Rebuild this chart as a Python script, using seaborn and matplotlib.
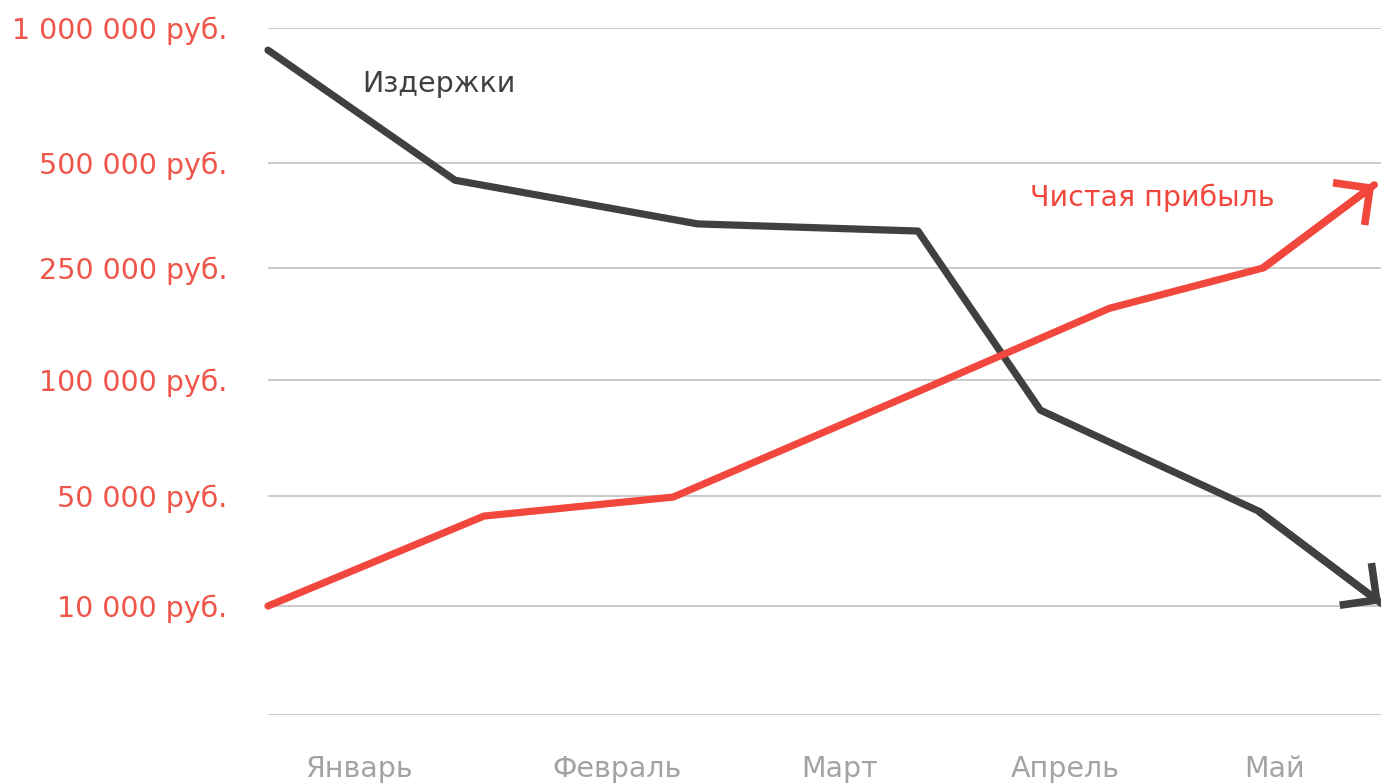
import numpy as np
import pandas as pd
import seaborn as sns
import matplotlib.pyplot as plt

# Данные
months = ["Январь", "Февраль", "Март", "Апрель", "Май"]
month_pos = [0.41, 1.57, 2.57, 3.58, 4.52]

costs_x = [0.0, 0.84, 1.93, 2.92, 3.47, 4.45, 5.0]
costs_y = [918000, 459000, 355000, 338000, 87000, 44500, 11000]

profit_x = [0.0, 0.97, 1.82, 2.92, 3.78, 4.47, 4.97]
profit_y = [10000, 42700, 49600, 95000, 196000, 250000, 448000]

tick_vals = [0, 10000, 50000, 100000, 250000, 500000, 1000000]
tick_labels = ["", "10 000 руб.", "50 000 руб.", "100 000 руб.", "250 000 руб.",
               "500 000 руб.", "1 000 000 руб."]
# шаги нелинейной шкалы (как на исходном графике)
scale_steps = [0, 109, 219, 335, 447, 552, 687]

RED = "#f2473d"
RED_LABEL = "#ef5549"
DARK = "#404040"
GRAY = "#a3a3a3"

sns.set_theme(style="white")
plt.rcParams["font.family"] = ["DejaVu Sans"]

df = pd.concat([
    pd.DataFrame({"x": costs_x, "y": costs_y, "series": "Издержки"}),
    pd.DataFrame({"x": profit_x, "y": profit_y, "series": "Чистая прибыль"}),
])

fig = plt.figure(figsize=(13.81, 7.84), dpi=100)
ax = fig.add_axes([268 / 1381, 1 - 715 / 784, 1 - 268 / 1381, (715 - 28) / 784])


def forward(v):
    return np.interp(v, tick_vals, scale_steps)


def inverse(p):
    return np.interp(p, scale_steps, tick_vals)


ax.set_yscale("function", functions=(forward, inverse))

sns.lineplot(data=df, x="x", y="y", hue="series", sort=False,
             palette={"Издержки": DARK, "Чистая прибыль": RED},
             linewidth=5.2, legend=False, ax=ax, clip_on=False, zorder=3)

# стрелки на концах линий
for xs, ys, col in [(costs_x, costs_y, DARK), (profit_x, profit_y, RED)]:
    ax.annotate("", xy=(xs[-1], ys[-1]), xytext=(xs[-2], ys[-2]),
                arrowprops=dict(arrowstyle="->,head_length=0.95,head_width=0.95",
                                color=col, lw=5.5, shrinkA=0, shrinkB=0,
                                mutation_scale=20, capstyle="butt",
                                joinstyle="miter"),
                annotation_clip=False, zorder=4)

ax.set_xlim(0, 5)
ax.set_ylim(0, 1000000)
ax.set_yticks(tick_vals)
ax.set_yticklabels(tick_labels)
ax.set_xticks(month_pos)
ax.set_xticklabels(months)
ax.set_xlabel("")
ax.set_ylabel("")

ax.tick_params(axis="y", length=0, pad=29, labelsize=20.5, labelcolor=RED_LABEL)
ax.tick_params(axis="x", length=0, pad=29, labelsize=20.5, labelcolor=GRAY)

ax.grid(axis="y", color="#c6c6c6", linewidth=1.3)
ax.grid(axis="x", visible=False)
for side in ["left", "right", "top", "bottom"]:
    ax.spines[side].set_visible(False)

ax.text(0.085, 0.918, "Издержки", transform=ax.transAxes, fontsize=20.5,
        color=DARK, ha="left", va="center")
ax.text(0.685, 0.753, "Чистая прибыль", transform=ax.transAxes, fontsize=20.5,
        color=RED, ha="left", va="center")

fig.savefig("out.png", dpi=100)
